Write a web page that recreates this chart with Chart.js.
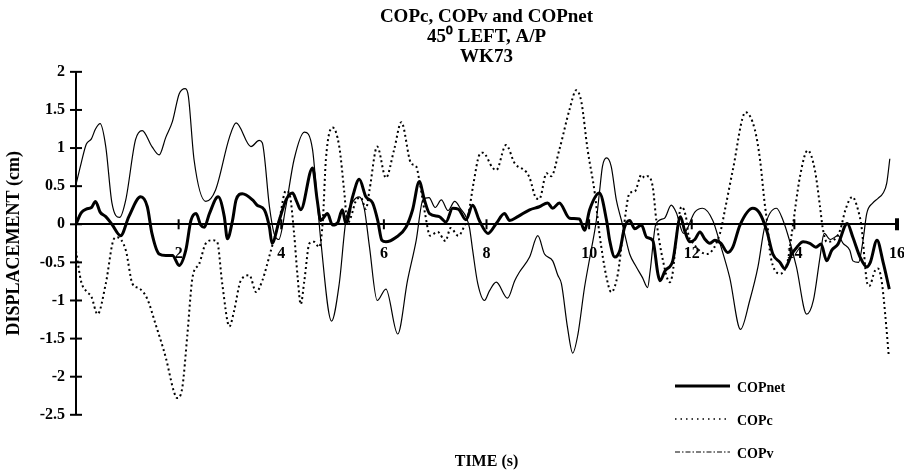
<!DOCTYPE html>
<html>
<head>
<meta charset="utf-8">
<script src="https://cdn.jsdelivr.net/npm/chart.js@4.4.1/dist/chart.umd.min.js"></script>
<style>
  html, body { margin: 0; padding: 0; background: #fff; }
  #wrap { width: 904px; height: 474px; }
</style>
</head>
<body>
<div id="wrap"><canvas id="copChart"></canvas></div>
<script>
// Waktu (s) dan nilai (cm) yang dibaca dari gambar
const tNet = [0, 0.1, 0.2, 0.3, 0.38, 0.47, 0.58, 0.7, 0.87, 1.03, 1.26, 1.39, 1.48, 1.62, 1.75, 1.88, 2.01, 2.14, 2.24, 2.34, 2.43, 2.5, 2.6, 2.77, 2.89, 2.95, 3.05, 3.12, 3.24, 3.44, 3.53, 3.67, 3.77, 3.82, 3.96, 4.1, 4.22, 4.3, 4.38, 4.61, 4.7, 4.77, 4.9, 5.0, 5.1, 5.19, 5.26, 5.39, 5.52, 5.65, 5.78, 5.88, 5.96, 6.04, 6.24, 6.43, 6.56, 6.69, 6.79, 6.89, 7.08, 7.21, 7.34, 7.45, 7.6, 7.73, 7.86, 8.03, 8.19, 8.35, 8.45, 8.61, 8.84, 9.03, 9.19, 9.29, 9.42, 9.62, 9.81, 9.91, 10.01, 10.2, 10.34, 10.4, 10.5, 10.6, 10.69, 10.79, 10.89, 11.02, 11.12, 11.24, 11.34, 11.38, 11.48, 11.63, 11.78, 11.86, 11.96, 12.06, 12.16, 12.25, 12.35, 12.45, 12.57, 12.7, 12.8, 12.94, 13.19, 13.32, 13.46, 13.58, 13.72, 13.81, 13.95, 14.05, 14.17, 14.3, 14.42, 14.52, 14.63, 14.73, 14.85, 15.03, 15.14, 15.28, 15.41, 15.48, 15.61, 15.73, 15.85];
const copNet = [0, 0.15, 0.2, 0.22, 0.3, 0.16, 0.1, 0, -0.15, 0.1, 0.36, 0.23, -0.12, -0.39, -0.41, -0.41, -0.54, -0.34, 0.05, 0.14, -0.01, -0.04, 0.14, 0.36, 0.1, -0.19, 0.05, 0.32, 0.4, 0.32, 0.25, 0.19, -0.04, -0.25, 0.05, 0.33, 0.41, 0.3, 0.19, 0.74, 0.32, 0.05, 0.14, -0.01, 0.02, 0.19, 0.01, 0.36, 0.59, 0.36, 0.28, 0.05, -0.21, -0.23, -0.17, -0.04, 0.19, 0.56, 0.32, 0.14, 0.1, 0.03, 0.21, 0.2, 0.06, 0.25, 0.05, -0.12, 0.01, 0.14, 0.05, 0.1, 0.19, 0.23, 0.28, 0.21, 0.28, 0.08, 0.07, -0.08, 0.19, 0.41, 0.05, -0.21, -0.43, -0.34, -0.04, 0.05, -0.06, -0.01, -0.17, -0.21, -0.65, -0.74, -0.61, -0.48, 0.1, -0.08, -0.23, -0.2, -0.1, -0.19, -0.25, -0.21, -0.25, -0.37, -0.3, -0.01, 0.21, 0.15, -0.08, -0.39, -0.5, -0.58, -0.39, -0.3, -0.23, -0.25, -0.3, -0.26, -0.48, -0.34, -0.26, 0.01, -0.17, -0.43, -0.56, -0.5, -0.21, -0.5, -0.85];

const tC = [0, 0.1, 0.2, 0.3, 0.42, 0.58, 0.74, 0.8, 0.97, 1.1, 1.23, 1.39, 1.55, 1.75, 1.91, 1.97, 2.07, 2.17, 2.27, 2.4, 2.53, 2.66, 2.75, 2.85, 2.99, 3.08, 3.21, 3.38, 3.51, 3.63, 3.8, 3.96, 4.09, 4.16, 4.25, 4.32, 4.38, 4.45, 4.55, 4.64, 4.74, 4.81, 4.87, 5.0, 5.13, 5.23, 5.29, 5.36, 5.45, 5.55, 5.65, 5.72, 5.87, 6.04, 6.2, 6.34, 6.53, 6.63, 6.69, 6.8, 6.9, 7.05, 7.2, 7.3, 7.45, 7.55, 7.65, 7.75, 7.86, 7.93, 8.12, 8.19, 8.38, 8.55, 8.77, 8.84, 8.97, 9.03, 9.17, 9.26, 9.42, 9.62, 9.75, 9.85, 9.97, 10.11, 10.2, 10.34, 10.43, 10.56, 10.66, 10.79, 10.89, 11.02, 11.08, 11.14, 11.24, 11.31, 11.44, 11.57, 11.63, 11.7, 11.8, 11.9, 11.93, 12.03, 12.29, 12.55, 12.65, 12.8, 13.05, 13.23, 13.33, 13.42, 13.48, 13.52, 13.58, 13.72, 13.87, 13.95, 14.11, 14.26, 14.4, 14.5, 14.55, 14.63, 14.76, 14.89, 15.0, 15.13, 15.24, 15.31, 15.41, 15.46, 15.57, 15.63, 15.7, 15.77, 15.84];
const copC = [-0.35, -0.75, -0.88, -0.95, -1.18, -0.78, -0.19, -0.17, -0.34, -0.78, -0.84, -0.98, -1.31, -1.75, -2.2, -2.28, -2.15, -1.45, -0.7, -0.52, -0.25, -0.21, -0.23, -0.78, -1.34, -1.14, -0.74, -0.67, -0.89, -0.74, -0.34, 0.05, 0.44, 0.4, -0.12, -0.7, -1.05, -0.74, -0.25, -0.23, -0.3, 0.05, 0.85, 1.27, 1.02, 0.41, 0.01, 0.1, 0.3, 0.35, 0.2, 0.45, 1.02, 0.61, 0.98, 1.34, 0.8, 0.76, 0.58, 0.15, -0.15, -0.1, -0.22, -0.05, -0.15, -0.05, 0.15, 0.55, 0.91, 0.94, 0.74, 0.71, 1.04, 0.8, 0.69, 0.61, 0.34, 0.33, 0.67, 0.63, 0.98, 1.51, 1.76, 1.6, 0.98, 0.41, -0.12, -0.7, -0.89, -0.65, -0.12, 0.41, 0.43, 0.65, 0.61, 0.63, 0.49, 0.05, -0.48, -0.76, -0.63, -0.17, 0.23, 0.05, -0.12, -0.25, -0.39, -0.12, 0.2, 0.71, 1.47, 1.24, 0.85, 0.28, -0.04, -0.34, -0.54, -0.65, -0.48, -0.12, 0.63, 0.97, 0.71, 0.23, -0.04, -0.23, -0.21, -0.08, 0.2, 0.36, 0.19, -0.04, -0.74, -0.81, -0.61, -0.58, -0.74, -1.18, -1.73];

const tV = [0, 0.1, 0.2, 0.3, 0.38, 0.47, 0.58, 0.7, 0.85, 0.97, 1.16, 1.29, 1.48, 1.62, 1.75, 1.88, 2.01, 2.13, 2.19, 2.3, 2.53, 2.72, 2.99, 3.12, 3.41, 3.57, 3.63, 3.77, 3.86, 3.95, 4.09, 4.25, 4.45, 4.61, 4.7, 4.77, 4.98, 5.13, 5.26, 5.4, 5.52, 5.62, 5.72, 5.87, 6.04, 6.27, 6.46, 6.63, 6.76, 6.88, 7.0, 7.12, 7.25, 7.38, 7.5, 7.6, 7.67, 7.73, 7.83, 7.96, 8.06, 8.19, 8.41, 8.55, 8.64, 8.84, 9.0, 9.13, 9.29, 9.39, 9.46, 9.58, 9.68, 9.78, 9.91, 10.04, 10.14, 10.2, 10.26, 10.34, 10.43, 10.53, 10.63, 10.69, 10.79, 10.92, 11.04, 11.14, 11.19, 11.3, 11.47, 11.6, 11.7, 11.84, 12.06, 12.21, 12.41, 12.55, 12.74, 12.95, 13.13, 13.29, 13.42, 13.65, 13.78, 13.9, 14.04, 14.24, 14.37, 14.5, 14.58, 14.7, 14.85, 14.95, 15.08, 15.14, 15.25, 15.34, 15.41, 15.53, 15.63, 15.73, 15.8, 15.86];
const copV = [0.52, 0.8, 1.05, 1.12, 1.25, 1.32, 1.02, 0.28, 0.09, 0.32, 1.11, 1.23, 1.02, 0.91, 1.14, 1.35, 1.71, 1.78, 1.68, 0.85, 0.3, 0.45, 1.14, 1.33, 1.02, 1.1, 1.07, 0.23, -0.12, -0.2, 0.23, 0.85, 1.21, 0.98, 0.32, -0.21, -1.27, -0.78, 0.05, 0.3, 0.36, 0.2, -0.3, -1.0, -0.85, -1.44, -0.74, -0.21, 0.32, 0.35, 0.22, 0.32, 0.18, 0.3, 0.2, 0.1, -0.05, -0.34, -0.78, -1.0, -0.87, -0.76, -0.97, -0.74, -0.63, -0.43, -0.15, -0.39, -0.48, -0.67, -0.78, -1.36, -1.69, -1.45, -0.83, -0.34, 0.05, 0.41, 0.76, 0.87, 0.76, 0.32, 0.05, -0.12, -0.39, -0.56, -0.7, -0.83, -0.61, 0.0, 0.08, 0.25, 0.15, -0.12, 0.16, 0.21, 0.05, -0.25, -0.7, -1.38, -1.0, -0.56, -0.04, 0.21, 0.05, -0.2, -0.56, -1.18, -1.0, -0.43, -0.12, -0.2, -0.15, -0.25, -0.34, -0.48, -0.5, -0.2, 0.14, 0.28, 0.34, 0.41, 0.54, 0.86];

const xTicks = [2, 4, 6, 8, 10, 12, 14, 16];
const titleLines = ['COPc, COPv and COPnet', '45\u2070 LEFT, A/P', 'WK73'];

const toPoints = (ts, vs) => ts.map((t, i) => ({ x: t, y: vs[i] }));
const serif = 'Liberation Serif, Times New Roman, serif';

// Tanda sumbu (tick silang) dan legenda di kanan bawah
const axisMarks = {
  id: 'axisMarks',
  afterDraw(chart) {
    const { ctx, scales: { x, y } } = chart;
    const x0 = x.getPixelForValue(0);
    const y0 = y.getPixelForValue(0);
    ctx.save();
    ctx.strokeStyle = '#000';
    ctx.fillStyle = '#000';
    ctx.lineWidth = 2;
    y.ticks.forEach(t => {
      const py = y.getPixelForValue(t.value);
      ctx.beginPath(); ctx.moveTo(x0 - 6, py); ctx.lineTo(x0 + 6, py); ctx.stroke();
    });
    x.ticks.forEach(t => {
      if (t.value === 0) return;
      const px = x.getPixelForValue(t.value);
      ctx.beginPath(); ctx.moveTo(px, y0 - 5); ctx.lineTo(px, y0 + 5); ctx.stroke();
    });
    ctx.fillRect(x.getPixelForValue(16) - 2, y0 - 6, 4, 12);

    // legenda
    const rows = [
      { label: 'COPnet', y: 386, width: 3, dash: [] },
      { label: 'COPc', y: 419, width: 1.5, dash: [1.5, 4] },
      { label: 'COPv', y: 452, width: 1.2, dash: [5, 2, 1.5, 2] }
    ];
    ctx.font = 'bold 14px ' + serif;
    ctx.textBaseline = 'middle';
    rows.forEach(r => {
      ctx.lineWidth = r.width;
      ctx.setLineDash(r.dash);
      ctx.beginPath(); ctx.moveTo(675, r.y); ctx.lineTo(730, r.y); ctx.stroke();
      ctx.setLineDash([]);
      ctx.fillText(r.label, 737, r.y + 2);
    });
    ctx.restore();
  }
};

const ctx = document.getElementById('copChart').getContext('2d');

const data = {
  datasets: [
    {
      label: 'COPnet',
      data: toPoints(tNet, copNet),
      borderColor: '#000',
      borderWidth: 3
    },
    {
      label: 'COPc',
      data: toPoints(tC, copC),
      borderColor: '#000',
      borderWidth: 2,
      borderDash: [2, 3]
    },
    {
      label: 'COPv',
      data: toPoints(tV, copV),
      borderColor: '#000',
      borderWidth: 1.2
    }
  ]
};

const config = {
  type: 'line',
  data: data,
  options: {
    responsive: true,
    maintainAspectRatio: false,
    animation: false,
    layout: { padding: { left: 0, right: 7, top: 0, bottom: 0 } },
    elements: {
      point: { radius: 0 },
      line: { cubicInterpolationMode: 'monotone', fill: false }
    },
    plugins: {
      legend: { display: false },
      tooltip: { enabled: false },
      title: {
        display: true,
        text: titleLines,
        fullSize: false,
        color: '#000',
        font: { family: serif, size: 19, weight: 'bold', lineHeight: 1.05 },
        padding: { top: 7, bottom: 5 }
      },
      subtitle: {
        display: true,
        text: 'TIME (s)',
        position: 'bottom',
        fullSize: false,
        color: '#000',
        font: { family: serif, size: 16, weight: 'bold', lineHeight: 1.2 },
        padding: { top: 37, bottom: 3 }
      }
    },
    scales: {
      x: {
        type: 'linear',
        position: { y: 0 },
        min: 0,
        max: 16,
        afterFit(scale) { scale.paddingLeft = 0; scale.paddingRight = 0; },
        grid: { display: true, drawOnChartArea: false, drawTicks: false },
        border: { display: true, color: '#000', width: 2 },
        ticks: {
          stepSize: 2,
          autoSkip: false,
          maxRotation: 0,
          padding: 20,
          color: '#000',
          font: { family: serif, size: 16, weight: 'bold' },
          callback: v => (xTicks.includes(v) ? String(v) : '')
        }
      },
      y: {
        position: 'left',
        min: -2.5,
        max: 2,
        afterFit(scale) { scale.width = 76; },
        grid: { display: true, drawOnChartArea: false, drawTicks: false },
        border: { display: true, color: '#000', width: 2 },
        ticks: {
          stepSize: 0.5,
          padding: 11,
          color: '#000',
          font: { family: serif, size: 16, weight: 'bold' },
          callback: v => String(v)
        },
        title: {
          display: true,
          text: 'DISPLACEMENT (cm)',
          color: '#000',
          padding: { top: 4, bottom: 0 },
          font: { family: serif, size: 18, weight: 'bold' }
        }
      }
    }
  },
  plugins: [axisMarks]
};

const copChart = new Chart(ctx, config);
</script>
</body>
</html>
